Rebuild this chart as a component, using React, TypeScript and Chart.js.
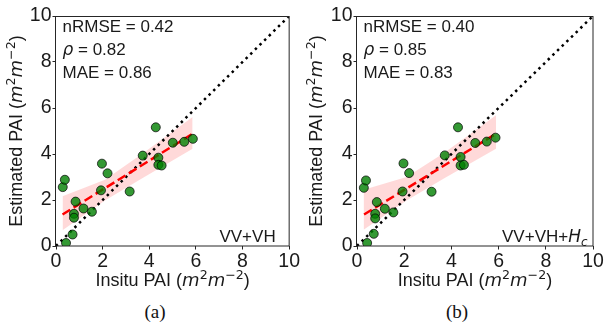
import React, { useEffect, useRef } from "react";
import { Chart, registerables } from "chart.js";
Chart.register(...registerables);

// ---------- data ----------
const insitu = [0.29, 0.38, 0.43, 0.71, 0.84, 0.77, 0.77, 1.18, 1.54, 1.97, 2.21, 1.93, 3.16, 3.72, 4.28, 4.39, 4.39, 4.53, 5.01, 5.5, 5.87];
const estimatedA = [2.56, 2.88, 0.13, 0.5, 1.93, 1.4, 1.23, 1.63, 1.49, 3.58, 3.16, 2.42, 2.37, 3.93, 5.16, 3.84, 3.53, 3.5, 4.49, 4.53, 4.66];
const estimatedB = [2.53, 2.85, 0.13, 0.53, 1.91, 1.4, 1.2, 1.62, 1.46, 3.59, 3.17, 2.37, 2.36, 3.94, 5.16, 3.87, 3.5, 3.53, 4.48, 4.54, 4.71];

const fitXA = [0.28, 5.86];
const fitYA = [1.37, 4.88];
const fitXB = [0.3, 5.89];
const fitYB = [1.37, 4.88];

const bandXA = [0.28, 2.1, 3.7, 5.86];
const bandUpperA = [2.16, 2.88, 4.01, 5.61];
const bandLowerA = [0.68, 1.98, 2.95, 4.23];
const bandXB = [0.28, 2.1, 3.7, 5.89];
const bandUpperB = [2.45, 3.0, 4.05, 5.68];
const bandLowerB = [0.71, 1.98, 2.95, 4.23];

const diagX = [0, 10];
const diagY = [0, 10];

const axisMin = 0;
const axisMax = 10;
const tickStep = 2;

const statsA = { nrmse: "0.42", rho: "0.82", mae: "0.86" };
const statsB = { nrmse: "0.40", rho: "0.85", mae: "0.83" };

// ---------- helpers ----------
const FONT = "'Liberation Sans', Arial, sans-serif";
const MATH = "'DejaVu Sans', sans-serif";
const TXT = "#1a1a1a";

type Seg = { t: string; it?: boolean; sup?: boolean; sub?: boolean };

function drawRich(ctx: CanvasRenderingContext2D, segs: Seg[], x: number, y: number, size: number, align: "left" | "center" | "right") {
  const fontOf = (s: Seg) => `${s.it ? "italic " : ""}${s.sup || s.sub ? size * 0.7 : size}px ${s.it || s.sup || s.sub ? MATH : FONT}`;
  let total = 0;
  for (const s of segs) {
    ctx.font = fontOf(s);
    total += ctx.measureText(s.t).width;
  }
  let cx = align === "left" ? x : align === "center" ? x - total / 2 : x - total;
  ctx.textAlign = "left";
  ctx.textBaseline = "alphabetic";
  for (const s of segs) {
    ctx.font = fontOf(s);
    const dy = s.sup ? -size * 0.4 : s.sub ? size * 0.22 : 0;
    ctx.fillText(s.t, cx, y + dy);
    cx += ctx.measureText(s.t).width;
  }
}

const units: Seg[] = [
  { t: "m", it: true },
  { t: "2", sup: true },
  { t: "m", it: true },
  { t: "\u22122", sup: true },
  { t: ")" },
];
const xTitle: Seg[] = [{ t: "Insitu PAI (" }, ...units];
const yTitle: Seg[] = [{ t: "Estimated PAI (" }, ...units];

const pts = (xs: number[], ys: number[]) => xs.map((x, i) => ({ x, y: ys[i] }));

type PanelProps = {
  est: number[];
  fitX: number[];
  fitY: number[];
  bandX: number[];
  bandUp: number[];
  bandLo: number[];
  stats: { nrmse: string; rho: string; mae: string };
  tag: Seg[];
  tagInset: number;
  width: number;
  yAxisWidth: number;
  padRight: number;
};

function Panel(p: PanelProps) {
  const ref = useRef<HTMLCanvasElement>(null);
  useEffect(() => {
    const canvas = ref.current!;
    const decor = {
      id: "decor",
      afterDatasetsDraw(chart: any) {
        const { ctx, chartArea: a } = chart;
        ctx.save();
        ctx.strokeStyle = "#262626";
        ctx.lineWidth = 1;
        ctx.strokeRect(a.left - 0.5, a.top + 0.5, a.right - a.left + 0.5, a.bottom - a.top - 0.5);
        ctx.fillStyle = TXT;
        const sx = a.left + 6.5;
        drawRich(ctx, [{ t: `nRMSE = ${p.stats.nrmse}` }], sx, a.top + 16.3, 17, "left");
        drawRich(ctx, [{ t: "\u03c1", it: true }, { t: ` = ${p.stats.rho}` }], sx, a.top + 38.8, 17, "left");
        drawRich(ctx, [{ t: `MAE = ${p.stats.mae}` }], sx, a.top + 62, 17, "left");
        drawRich(ctx, p.tag, a.right - p.tagInset, a.bottom - 4, 17, "right");
        // axis titles
        drawRich(ctx, xTitle, (a.left + a.right) / 2, 286, 18, "center");
        ctx.save();
        ctx.translate(16, (a.top + a.bottom) / 2);
        ctx.rotate(-Math.PI / 2);
        drawRich(ctx, yTitle, 0, 6.4, 18, "center");
        ctx.restore();
        ctx.restore();
      },
    };
    const tickFont = { family: FONT, size: 19.5 };
    const chart = new Chart(canvas, {
      type: "scatter",
      data: {
        datasets: [
          {
            label: "observations",
            data: pts(insitu, p.est),
            backgroundColor: "rgba(0,128,0,0.8)",
            borderColor: "rgba(0,0,0,0.7)",
            borderWidth: 1,
            pointRadius: 4.5,
            showLine: false,
          },
          {
            label: "fit",
            data: pts(p.fitX, p.fitY),
            showLine: true,
            borderColor: "#ff0000",
            borderWidth: 2.5,
            borderDash: [9, 4],
            pointRadius: 0,
            fill: false,
          },
          {
            label: "1:1",
            data: pts(diagX, diagY),
            showLine: true,
            borderColor: "#000000",
            borderWidth: 2.5,
            borderDash: [2.5, 4],
            borderCapStyle: "butt",
            pointRadius: 0,
            fill: false,
          },
          {
            label: "ci upper",
            data: pts(p.bandX, p.bandUp),
            showLine: true,
            borderWidth: 0,
            borderColor: "rgba(0,0,0,0)",
            pointRadius: 0,
            fill: "+1",
            backgroundColor: "rgba(255,0,0,0.15)",
          },
          {
            label: "ci lower",
            data: pts(p.bandX, p.bandLo),
            showLine: true,
            borderWidth: 0,
            borderColor: "rgba(0,0,0,0)",
            pointRadius: 0,
            fill: false,
          },
        ],
      } as any,
      options: {
        responsive: false,
        animation: false,
        devicePixelRatio: 1,
        events: [],
        layout: { padding: { top: 16, right: p.padRight, left: 0, bottom: 0 } },
        plugins: { legend: { display: false }, tooltip: { enabled: false }, title: { display: false } },
        scales: {
          x: {
            type: "linear",
            min: axisMin,
            max: axisMax,
            ticks: { stepSize: tickStep, font: tickFont, color: TXT, padding: 0, maxRotation: 0 },
            grid: { drawOnChartArea: false, tickLength: 3.5, color: "#262626" },
            border: { display: false },
            afterFit: (s: any) => {
              s.height = 44;
            },
          },
          y: {
            type: "linear",
            min: axisMin,
            max: axisMax,
            ticks: { stepSize: tickStep, font: tickFont, color: TXT, padding: 1 },
            grid: { drawOnChartArea: false, tickLength: 3.5, color: "#262626" },
            border: { display: false },
            afterFit: (s: any) => {
              s.width = p.yAxisWidth;
            },
          },
        },
      } as any,
      plugins: [decor],
    });
    return () => chart.destroy();
  }, []);
  return <canvas ref={ref} width={p.width} height={290} style={{ display: "block", width: p.width, height: 290 }} />;
}

const captionStyle: React.CSSProperties = {
  position: "absolute",
  top: 301,
  transform: "translateX(-50%)",
  fontFamily: "'Liberation Serif', 'Times New Roman', serif",
  fontSize: 19,
  color: "#111",
  whiteSpace: "nowrap",
};

export default function App() {
  return (
    <div style={{ position: "absolute", left: 0, top: 0, width: 605, height: 325, background: "#fff", overflow: "hidden" }}>
      <div style={{ position: "absolute", left: 0, top: 0 }}>
        <Panel
          est={estimatedA}
          fitX={fitXA}
          fitY={fitYA}
          bandX={bandXA}
          bandUp={bandUpperA}
          bandLo={bandLowerA}
          stats={statsA}
          tag={[{ t: "VV+VH" }]}
          tagInset={13.5}
          width={300}
          yAxisWidth={56}
          padRight={8}
        />
      </div>
      <div style={{ position: "absolute", left: 300, top: 0 }}>
        <Panel
          est={estimatedB}
          fitX={fitXB}
          fitY={fitYB}
          bandX={bandXB}
          bandUp={bandUpperB}
          bandLo={bandLowerB}
          stats={statsB}
          tag={[{ t: "VV+VH+" }, { t: "H", it: true }, { t: "c", it: true, sub: true }]}
          tagInset={5.5}
          width={305}
          yAxisWidth={57}
          padRight={12}
        />
      </div>
      <div style={{ ...captionStyle, left: 155 }}>(a)</div>
      <div style={{ ...captionStyle, left: 457 }}>(b)</div>
    </div>
  );
}
